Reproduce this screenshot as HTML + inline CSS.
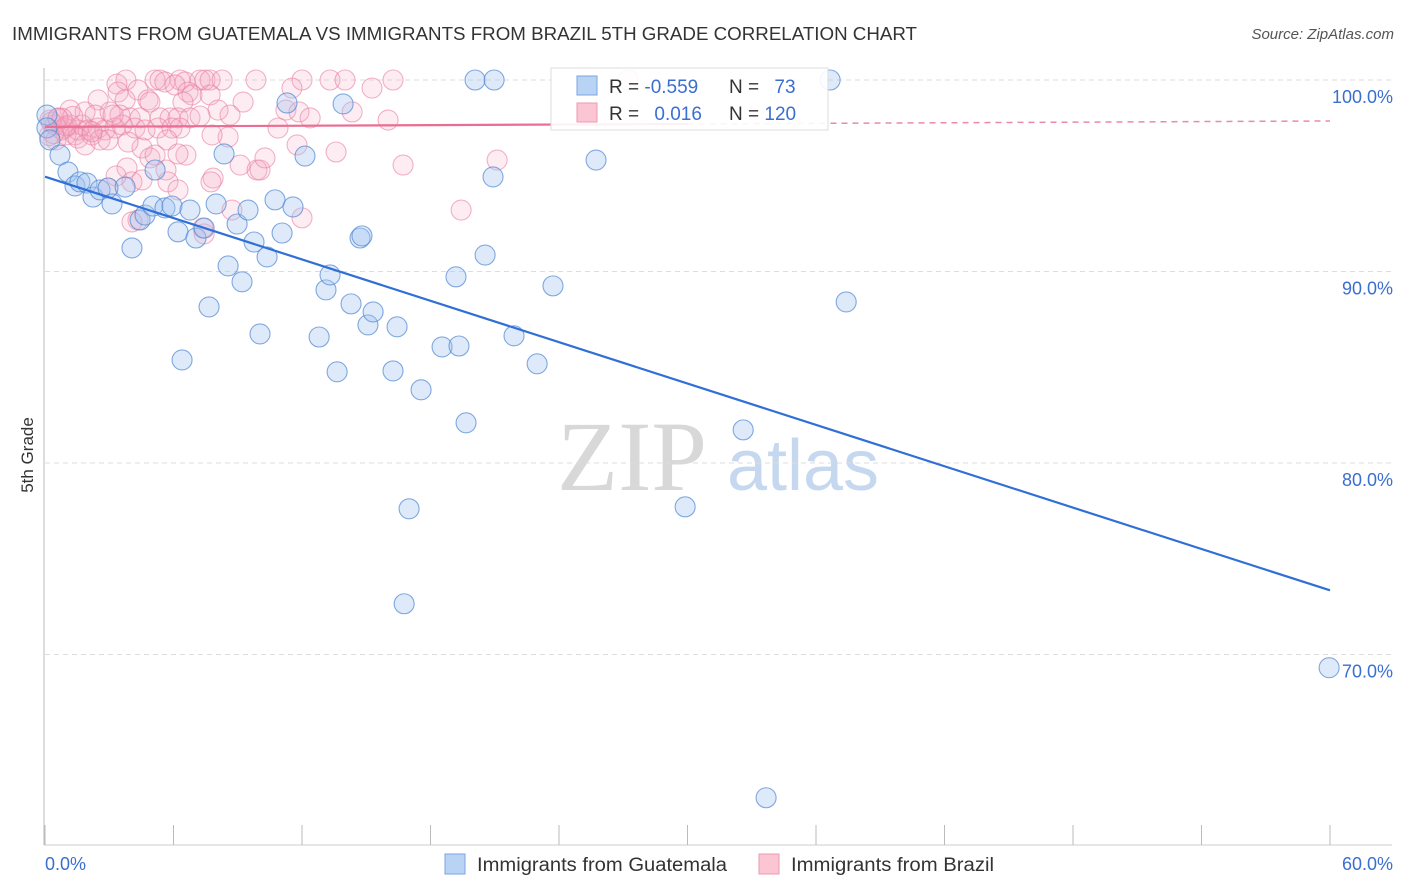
<!DOCTYPE html>
<html><head><meta charset="utf-8"><style>
body{margin:0;background:#fff;font-family:"Liberation Sans",sans-serif;}
#wrap{position:relative;width:1406px;height:892px;overflow:hidden}
</style></head><body>
<div id="wrap">
<svg id="svg" width="1406" height="892" xmlns="http://www.w3.org/2000/svg">
<text x="12" y="40" font-size="18" fill="#333" textLength="905" lengthAdjust="spacingAndGlyphs">IMMIGRANTS FROM GUATEMALA VS IMMIGRANTS FROM BRAZIL 5TH GRADE CORRELATION CHART</text>
<text x="1394" y="39" font-size="15" fill="#555" text-anchor="end" font-style="italic">Source: ZipAtlas.com</text>
<text transform="translate(33,455) rotate(-90)" font-size="17" fill="#333" text-anchor="middle">5th Grade</text>
<g>
<text x="632" y="490" font-size="100" font-family="Liberation Serif,serif" fill="#d8d8d8" text-anchor="middle">ZIP</text>
<text x="803" y="490" font-size="72" fill="#c5d8ef" text-anchor="middle">atlas</text>
</g>
<g id="grid"></g>
<g id="axes"></g>
<g id="pts"></g>
<g id="lines"></g>
<g>
<rect x="551" y="68" width="277" height="62" fill="#fff" fill-opacity="0.9" stroke="#ddd"/>
<rect x="577" y="76" width="20" height="19" fill="#b9d3f5" stroke="#7aa5e0"/>
<rect x="577" y="103" width="20" height="19" fill="#fbc5d4" stroke="#ee9ab2"/>
<text x="609" y="93" font-size="19" fill="#333">R = <tspan fill="#3a6fd0">-0.559</tspan></text>
<text x="729" y="93" font-size="19" fill="#333">N = <tspan fill="#3a6fd0" dx="10">73</tspan></text>
<text x="609" y="120" font-size="19" fill="#333">R = <tspan fill="#3a6fd0" dx="10">0.016</tspan></text>
<text x="729" y="120" font-size="19" fill="#333">N = <tspan fill="#3a6fd0">120</tspan></text>
</g>
<g>
<rect x="445" y="854" width="20" height="20" fill="#b9d3f5" stroke="#7aa5e0"/>
<text x="477" y="871" font-size="19" fill="#333" textLength="250" lengthAdjust="spacingAndGlyphs">Immigrants from Guatemala</text>
<rect x="759" y="854" width="20" height="20" fill="#fbc5d4" stroke="#ee9ab2"/>
<text x="791" y="871" font-size="19" fill="#333" textLength="203" lengthAdjust="spacingAndGlyphs">Immigrants from Brazil</text>
</g>
</svg>
</div>
<script>
const guatX=[0.09,0.09,0.23,0.70,1.07,1.40,1.63,1.96,2.24,2.57,2.94,3.13,3.74,4.06,4.44,4.67,5.04,5.14,5.60,5.93,6.21,6.40,6.77,7.05,7.43,7.66,7.99,8.36,8.55,8.97,9.20,9.48,9.76,10.04,10.37,10.74,11.07,11.30,11.58,12.14,12.80,13.12,13.31,13.64,13.92,14.29,14.71,14.80,15.08,15.32,16.25,16.44,16.77,17.00,17.56,18.54,19.19,19.33,19.66,20.08,20.55,20.92,20.97,21.90,22.98,23.72,25.73,29.89,32.60,33.67,36.66,37.41,59.96];
const guatY=[98.17,97.5,96.87,96.08,95.19,94.47,94.68,94.62,93.89,94.26,94.36,93.53,94.41,91.23,92.69,92.95,93.42,95.30,93.32,93.42,92.07,85.38,93.21,91.75,92.27,88.15,93.53,96.14,90.29,92.48,89.46,93.21,91.54,86.74,90.76,93.74,92.01,98.80,93.37,96.03,86.58,89.04,89.82,84.76,98.75,88.31,91.75,91.86,87.21,87.89,84.81,87.11,72.65,77.61,83.82,86.06,89.72,86.11,82.10,100.0,90.86,94.94,100.0,86.64,85.18,89.25,95.82,77.71,81.73,62.52,100.0,88.41,69.31];
const brazX=[3.36,3.78,5.14,5.37,5.60,6.30,6.54,7.24,7.47,7.71,8.27,9.85,12.00,13.31,14.01,16.25,27.23,3.41,4.34,6.07,6.68,6.86,7.71,11.53,15.27,2.48,3.74,4.81,4.90,6.44,8.08,9.25,11.25,11.86,14.34,1.17,1.87,2.34,3.04,3.50,3.97,4.44,5.37,5.84,6.21,6.77,7.24,8.64,10.88,12.38,16.02,11.77,13.59,16.72,21.11,0.23,0.47,0.61,0.79,0.93,1.17,1.40,1.54,1.73,2.01,2.19,2.48,2.80,3.27,3.60,4.20,4.67,5.28,5.93,6.30,0.51,0.98,1.54,1.87,2.57,2.94,4.53,5.70,8.55,3.83,4.06,4.53,4.90,5.14,5.65,5.74,6.21,6.58,7.85,7.75,9.11,9.90,10.04,10.27,8.73,7.43,4.34,4.06,3.32,2.94,12.00,19.43,7.38,6.21,7.80,3.88,3.18,0.3,0.6,1.0,0.4,2.2,1.3,0.8,0.2];
const brazY=[99.79,100,100,100,99.9,100,99.9,100,100,100,100,100,100,100,100,100,100,99.37,99.48,99.74,99.37,99.22,99.22,99.58,99.58,98.96,98.96,98.96,98.85,98.85,98.43,98.85,98.43,98.33,98.33,98.43,98.33,98.17,98.33,98.17,98.02,98.02,98.02,98.02,98.02,98.02,98.12,98.17,97.49,98.02,97.91,96.61,96.24,95.56,95.82,97.91,97.65,98.02,97.39,97.49,97.65,97.13,97.39,97.65,97.39,97.13,97.49,97.39,97.49,97.65,97.49,97.39,97.49,97.49,97.49,96.87,97.13,96.97,96.61,96.87,96.87,96.45,96.87,97.02,95.41,94.68,94.78,95.93,96.08,95.30,94.68,94.26,96.08,94.88,94.68,95.56,95.30,95.30,95.93,93.21,91.96,92.69,92.59,94.99,94.36,92.80,93.21,92.27,96.14,97.13,96.76,98.17,97.8,98.0,97.6,97.2,97.3,98.1,98.0,97.1];
const guatTrend=[94.95,73.35];
const brazTrend=[97.55,97.86];
const brazSolidEnd=30;
const xTicks=[0,6,12,18,24,30,36,42,48,54,60];
const yTicks=[100,90,80,70];
const yTickLabels=["100.0%","90.0%","80.0%","70.0%"];

const NS="http://www.w3.org/2000/svg";
const X0=45,X1=1330,Y100=80,PX10=191.5;
const sx=v=>X0+(v/60)*(X1-X0);
const sy=v=>Y100+(100-v)/10*PX10;
function mk(tag,attrs,parent){const e=document.createElementNS(NS,tag);for(const k in attrs)e.setAttribute(k,attrs[k]);parent.appendChild(e);return e;}
const grid=document.getElementById('grid'),axes=document.getElementById('axes'),pts=document.getElementById('pts'),lines=document.getElementById('lines');
yTicks.forEach((t,i)=>{
 const l=mk('line',{x1:X0,x2:1392,y1:sy(t),y2:sy(t),stroke:'#ddd','stroke-dasharray':'5,4'},grid);
 
 
 const tx=mk('text',{x:1393,y:sy(t)+23,'font-size':18,fill:'#3a6fd0','text-anchor':'end'},axes);
 tx.textContent=yTickLabels[i];
 
 
});
const ax=mk('line',{x1:44,x2:44,y1:68,y2:845,stroke:'#bbb'},axes);


const bx=mk('line',{x1:44,x2:1392,y1:845,y2:845,stroke:'#ccc'},axes);


xTicks.forEach(t=>{
 const l=mk('line',{x1:sx(t),x2:sx(t),y1:825,y2:845,stroke:'#bbb'},axes);
 
 
});
[[0,'0.0%',45,'start'],[60,'60.0%',1393,'end']].forEach(a=>{
 const t=mk('text',{x:a[2],y:870,'font-size':18,fill:'#3a6fd0','text-anchor':a[3]},axes);
 t.textContent=a[1];
 
 
});
brazX.forEach((x,i)=>{
 const c=mk('circle',{cx:sx(x),cy:sy(brazY[i]),r:10,fill:'rgba(246,170,195,0.22)',stroke:'rgba(232,130,162,0.6)','stroke-width':1.1},pts);
 
 
});
guatX.forEach((x,i)=>{
 const c=mk('circle',{cx:sx(x),cy:sy(guatY[i]),r:10,fill:'rgba(160,196,240,0.35)',stroke:'rgba(80,135,210,0.7)','stroke-width':1.1},pts);
 
 
});
const gl=mk('line',{x1:sx(0),y1:sy(guatTrend[0]),x2:sx(60),y2:sy(guatTrend[1]),stroke:'#2f6fd6','stroke-width':2.2},lines);


const byAt=x=>brazTrend[0]+(brazTrend[1]-brazTrend[0])*x/60;
const pl=mk('line',{x1:sx(0),y1:sy(byAt(0)),x2:sx(brazSolidEnd),y2:sy(byAt(brazSolidEnd)),stroke:'#ea6d93','stroke-width':2.2},lines);


const pd=mk('line',{x1:sx(brazSolidEnd),y1:sy(byAt(brazSolidEnd)),x2:sx(60),y2:sy(byAt(60)),stroke:'#ea8aa8','stroke-width':1.5,'stroke-dasharray':'6,5'},lines);


</script>
</body></html>
